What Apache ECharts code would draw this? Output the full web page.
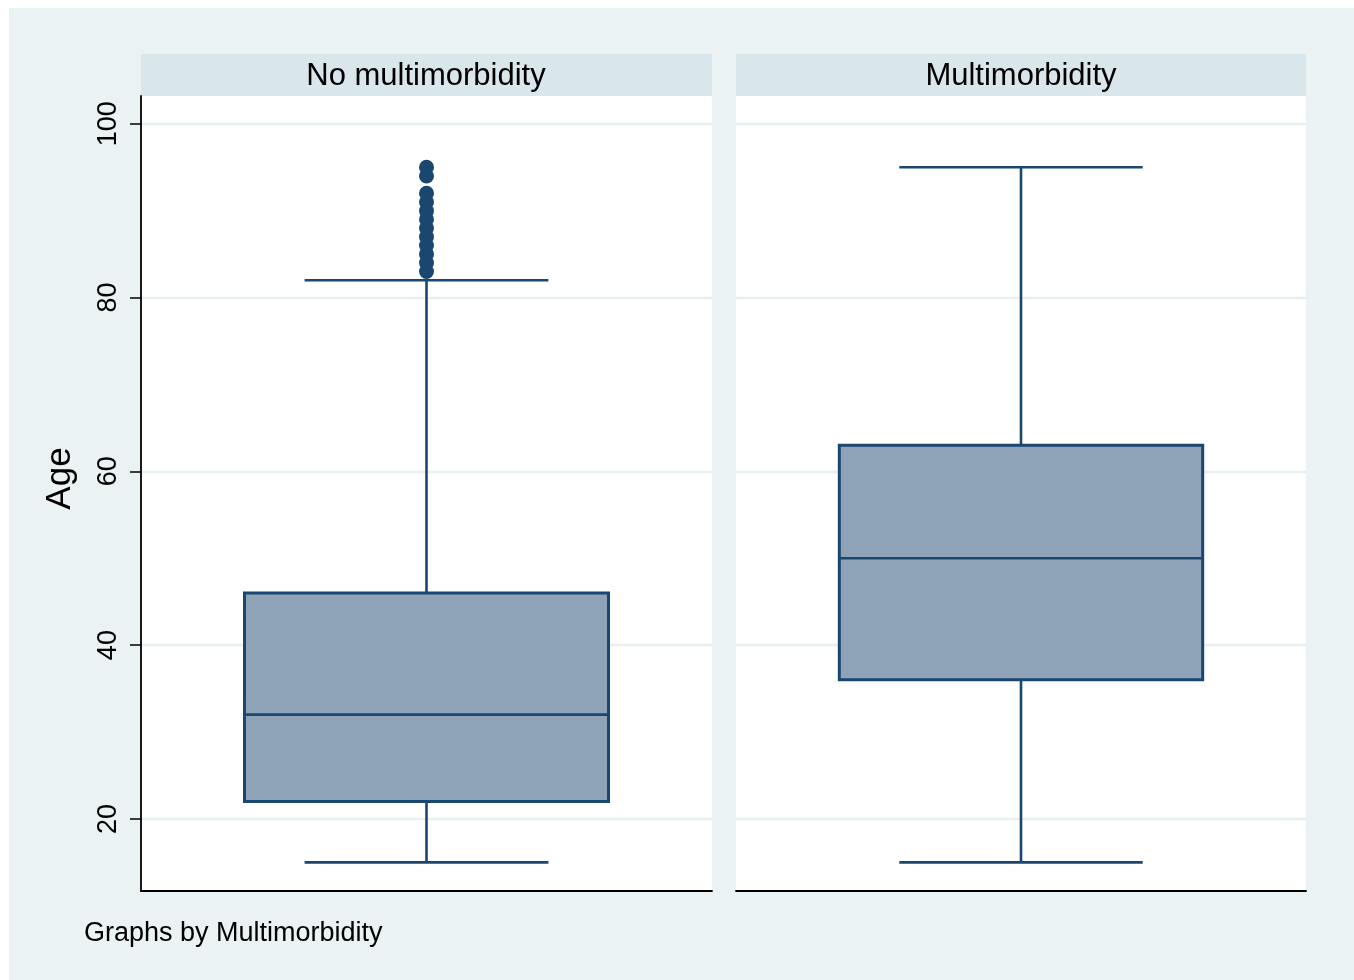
<!DOCTYPE html>
<html>
<head>
<meta charset="utf-8">
<script src="https://cdn.jsdelivr.net/npm/echarts@6/dist/echarts.min.js"></script>
<style>
  html, body { margin: 0; padding: 0; background: #ffffff; }
  #chart { width: 1354px; height: 980px; }
</style>
</head>
<body>
<div id="chart"></div>
<script>
// Age distribution by multimorbidity status
const panels = ['No multimorbidity', 'Multimorbidity'];
// [lower whisker, Q1, median, Q3, upper whisker]
const noMultiBox = [15, 22, 32, 46, 82];
const multiBox = [15, 36, 50, 63, 95];
// Ages beyond the upper whisker (no multimorbidity group)
const noMultiOutliers = [83, 84, 85, 86, 87, 88, 89, 90, 91, 92, 94, 95];
const yTicks = [20, 40, 60, 80, 100];
const yLabel = 'Age';
const footNote = 'Graphs by Multimorbidity';

const NAVY = '#1a476f';
const FONT = '"Liberation Sans", Arial, sans-serif';

const chart = echarts.init(document.getElementById('chart'), null, { renderer: 'canvas' });

const grids = [
  { left: 141, top: 96, width: 571, height: 795 },
  { left: 736, top: 96, width: 570, height: 795 }
];

function boxRender(params, api) {
  const x = api.value(0);
  const lo = api.coord([x, api.value(1)]);
  const q1 = api.coord([x, api.value(2)]);
  const med = api.coord([x, api.value(3)]);
  const q3 = api.coord([x, api.value(4)]);
  const hi = api.coord([x, api.value(5)]);
  const band = api.size([1, 0])[0];
  const bw = band * 0.6375 / 2;
  const cw = band * 0.427 / 2;
  const cx = lo[0];
  const ls = { stroke: NAVY, lineWidth: 2.6 };
  return {
    type: 'group',
    children: [
      { type: 'line', shape: { x1: cx, y1: q3[1], x2: cx, y2: hi[1] }, style: ls },
      { type: 'line', shape: { x1: cx, y1: q1[1], x2: cx, y2: lo[1] }, style: ls },
      { type: 'line', shape: { x1: cx - cw, y1: hi[1], x2: cx + cw, y2: hi[1] }, style: ls },
      { type: 'line', shape: { x1: cx - cw, y1: lo[1], x2: cx + cw, y2: lo[1] }, style: ls },
      { type: 'rect', shape: { x: cx - bw, y: q3[1], width: bw * 2, height: q1[1] - q3[1] },
        style: { fill: '#8fa3b8', stroke: NAVY, lineWidth: 3 } },
      { type: 'line', shape: { x1: cx - bw, y1: med[1], x2: cx + bw, y2: med[1] }, style: ls }
    ]
  };
}

function yAxisFor(i) {
  return {
    type: 'value',
    gridIndex: i,
    min: 11.7,
    max: 103.2,
    name: i === 0 ? yLabel : '',
    nameLocation: 'middle',
    nameGap: 63,
    nameRotate: 90,
    nameTextStyle: { fontFamily: FONT, fontSize: 35, color: '#000', padding: [0, 0, 0, 30] },
    axisLine: { show: i === 0, lineStyle: { color: '#000', width: 1.8 } },
    axisTick: { show: i === 0, customValues: yTicks, length: 11, lineStyle: { color: '#000', width: 1.5 } },
    axisLabel: {
      show: i === 0, customValues: yTicks, rotate: 90, margin: 19,
      fontFamily: FONT, fontSize: 27, color: '#000'
    },
    splitLine: { show: true, lineStyle: { color: '#e8f0f2', width: 2.4 } }
  };
}

function xAxisFor(i) {
  return {
    type: 'category',
    gridIndex: i,
    data: [panels[i]],
    axisLine: { show: true, lineStyle: { color: '#000', width: 1.8 } },
    axisTick: { show: false },
    axisLabel: { show: false },
    splitLine: { show: false }
  };
}

const headerRects = grids.map(g => ({
  type: 'rect',
  shape: { x: g.left, y: 54, width: g.width, height: 42 },
  style: { fill: '#d9e6ec' },
  z: -5
}));
const plotRects = grids.map(g => ({
  type: 'rect',
  shape: { x: g.left, y: g.top, width: g.width, height: g.height },
  style: { fill: '#ffffff' },
  z: -5
}));

const headerStyle = { fontFamily: FONT, fontSize: 31, fontWeight: 'normal', color: '#000' };

const option = {
  animation: false,
  backgroundColor: '#ffffff',
  graphic: [
    { type: 'rect', shape: { x: 9, y: 8, width: 1345, height: 972 }, style: { fill: '#eaf2f3' }, z: -10 },
    ...headerRects,
    ...plotRects
  ],
  title: [
    { text: panels[0], left: 426, top: 61, textAlign: 'center', padding: 0, textStyle: headerStyle },
    { text: panels[1], left: 1021, top: 61, textAlign: 'center', padding: 0, textStyle: headerStyle },
    { text: footNote, left: 84, top: 920, padding: 0,
      textStyle: { fontFamily: FONT, fontSize: 27, fontWeight: 'normal', color: '#000' } }
  ],
  grid: grids,
  xAxis: [xAxisFor(0), xAxisFor(1)],
  yAxis: [yAxisFor(0), yAxisFor(1)],
  series: [
    {
      type: 'custom', xAxisIndex: 0, yAxisIndex: 0,
      renderItem: boxRender,
      encode: { x: 0, y: [1, 2, 3, 4, 5] },
      data: [[0, ...noMultiBox]],
      z: 2
    },
    {
      type: 'custom', xAxisIndex: 1, yAxisIndex: 1,
      renderItem: boxRender,
      encode: { x: 0, y: [1, 2, 3, 4, 5] },
      data: [[0, ...multiBox]],
      z: 2
    },
    {
      type: 'scatter', xAxisIndex: 0, yAxisIndex: 0,
      symbol: 'circle', symbolSize: 15,
      itemStyle: { color: NAVY, opacity: 1 },
      data: noMultiOutliers.map(v => [0, v]),
      z: 3
    }
  ]
};

chart.setOption(option);
</script>
</body>
</html>
